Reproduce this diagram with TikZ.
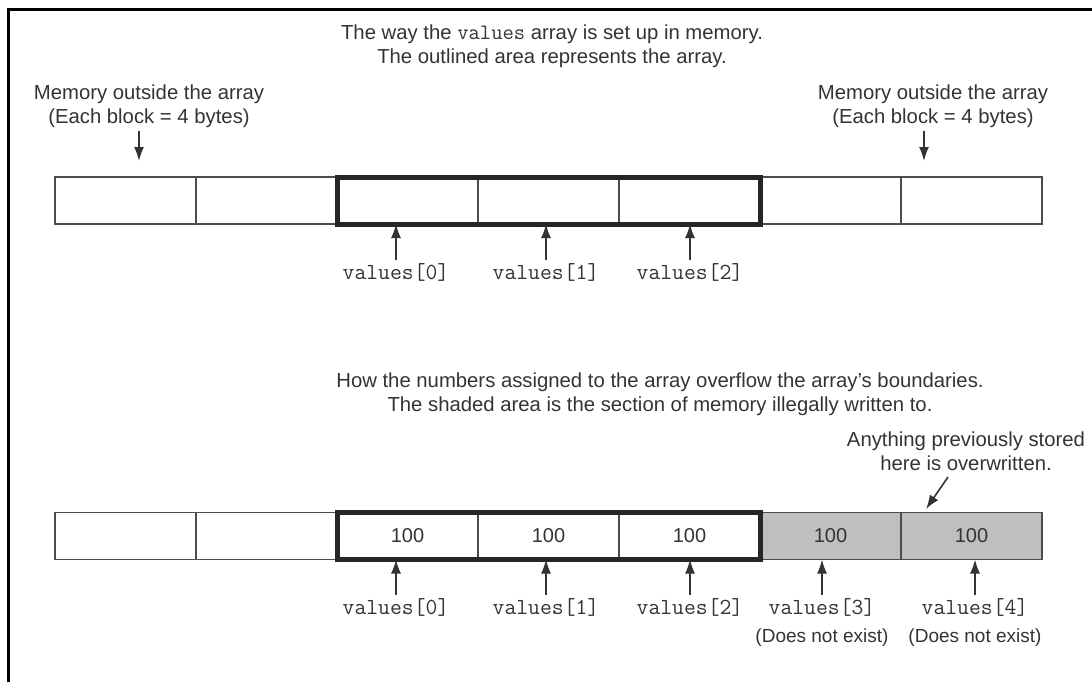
\documentclass[tikz,border=0pt]{standalone}
\usepackage{fontspec}
\setmainfont{Liberation Sans}
\usetikzlibrary{positioning,arrows.meta}

\tikzset{
  cell/.style={draw=black!70, line width=1.3pt, minimum width=141pt, minimum height=47pt,
    inner sep=0pt, outer sep=0pt, text=black!80, font=\fontsize{20}{24}\selectfont},
  shadedcell/.style={cell, fill=black!25},
  note/.style={align=center, text=black!80, font=\fontsize{20.3}{24.5}\selectfont},
  idx/.style={text=black!80, font=\ttfamily\fontsize{23}{26}\selectfont},
  ptr/.style={-{Latex[length=14pt,width=10pt]}, line width=1.6pt, black!80},
}

\begin{document}
\begin{tikzpicture}[x=1pt,y=-1pt]
\useasboundingbox (0,0) rectangle (1092,681);
% Frame
\draw[line width=3pt] (8,700) -- (8,9.5) -- (1110,9.5);

% Upper part: the array as set up
\node[note] (title1) at (552,46) {The way the {\ttfamily\fontsize{22}{24}\selectfont values} array is set up in memory.\\
  The outlined area represents the array.};
\foreach \i in {0,...,6} {
    \node[cell] (t\i) at (125.5+141*\i,200.5) {};
}
\draw[line width=5pt, black!85] (t2.north west) rectangle (t4.south east);

\node[note] (memL) at (149,106) {Memory outside the array\\(Each block = 4 bytes)};
\node[note] (memR) at (933,106) {Memory outside the array\\(Each block = 4 bytes)};
\coordinate (aL) at (139,161);
\coordinate (aR) at (924,161);
\draw[ptr] (aL |- memL.south) -- (aL);
\draw[ptr] (aR |- memR.south) -- (aR);

\node[idx] (u0) at (396,272) {values[0]};
\node[idx] (u1) at (546,272) {values[1]};
\node[idx] (u2) at (690,272) {values[2]};
\draw[ptr] (u0.north) -- (u0.north |- t2.south);
\draw[ptr] (u1.north) -- (u1.north |- t3.south);
\draw[ptr] (u2.north) -- (u2.north |- t4.south);

% Lower part: the overflow
\node[note] (title2) at (660,394) {How the numbers assigned to the array overflow the array's boundaries.\\
  The shaded area is the section of memory illegally written to.};
\foreach \i in {0,...,4} {
    \node[cell] (b\i) at (125.5+141*\i,536) {};
}
\foreach \i in {5,6} {
    \node[shadedcell] (b\i) at (125.5+141*\i,536) {};
}
\foreach \i in {2,...,6} {
    \node[text=black!80, font=\fontsize{20}{24}\selectfont] (n\i) at (b\i) {100};
}
\draw[line width=5pt, black!85] (b2.north west) rectangle (b4.south east);

\node[note] (over) at (966,451) {Anything previously stored\\here is overwritten.};
\coordinate (aO) at (926,509);
\draw[ptr] (948,477) -- (aO);

\node[idx] (w0) at (396,607) {values[0]};
\node[idx] (w1) at (546,607) {values[1]};
\node[idx] (w2) at (690,607) {values[2]};
\node[idx] (w3) at (822,607) {values[3]};
\node[idx] (w4) at (975,607) {values[4]};
\draw[ptr] (w0.north) -- (w0.north |- b2.south);
\draw[ptr] (w1.north) -- (w1.north |- b3.south);
\draw[ptr] (w2.north) -- (w2.north |- b4.south);
\draw[ptr] (w3.north) -- (w3.north |- b5.south);
\draw[ptr] (w4.north) -- (w4.north |- b6.south);

\node[note, font=\fontsize{19}{23}\selectfont] (dne3) at (822,638) {(Does not exist)};
\node[note, font=\fontsize{19}{23}\selectfont] (dne4) at (975,638) {(Does not exist)};
\end{tikzpicture}
\end{document}
